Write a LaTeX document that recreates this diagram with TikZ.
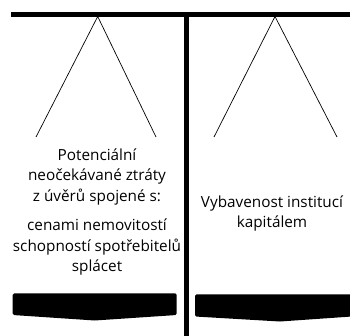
\documentclass[tikz,border=0pt]{standalone}
\usepackage{fontspec}
\setmainfont{Open Sans}
\begin{document}
\begin{tikzpicture}[x=1pt,y=1pt,
  txt/.style={align=center,inner sep=0pt,font=\fontsize{15.3}{20.5}\selectfont},
  leg/.style={line width=0.7pt},
  bar/.style={line width=4.4pt},
  pointer/.style={fill=black,rounded corners=1.5pt}]
\useasboundingbox (0,0) rectangle (350,-336);
% top bar and post
\coordinate (tl) at (11,-14.5);
\coordinate (tr) at (350,-14.5);
\coordinate (pt) at (186.5,-12.3);
\coordinate (pb) at (186.5,-336);
\draw[bar] (tl) -- (tr);
\draw[bar] (pt) -- (pb);
% left triangle
\coordinate (la) at (97.7,-16.5);
\coordinate (ll) at (36,-137);
\coordinate (lr) at (156,-137);
\draw[leg] (ll) -- (la) -- (lr);
% right triangle
\coordinate (ra) at (275,-16.5);
\coordinate (rl) at (214,-137);
\coordinate (rr) at (337,-137);
\draw[leg] (rl) -- (ra) -- (rr);
% texts
\node[txt] (t1) at (97,-176.5) {Potenciální\\neočekávané ztráty\\z úvěrů spojené s:};
\node[txt] (t2) at (97,-247) {cenami nemovitostí\\schopností spotřebitelů\\splácet};
\node[txt] (t3) at (272,-213.5) {Vybavenost institucí\\kapitálem};
% bottom pointers
\fill[pointer] (12.7,-293.3) -- (176.7,-293.3) -- (176.7,-315) [sharp corners] -- (94.7,-320.5) [rounded corners=1.5pt] -- (12.7,-315) -- cycle;
\fill[pointer] (195,-294.3) -- (352,-294.3) -- (352,-316.5) [sharp corners] -- (280,-321.5) [rounded corners=1.5pt] -- (195,-316.5) -- cycle;
\end{tikzpicture}
\end{document}
